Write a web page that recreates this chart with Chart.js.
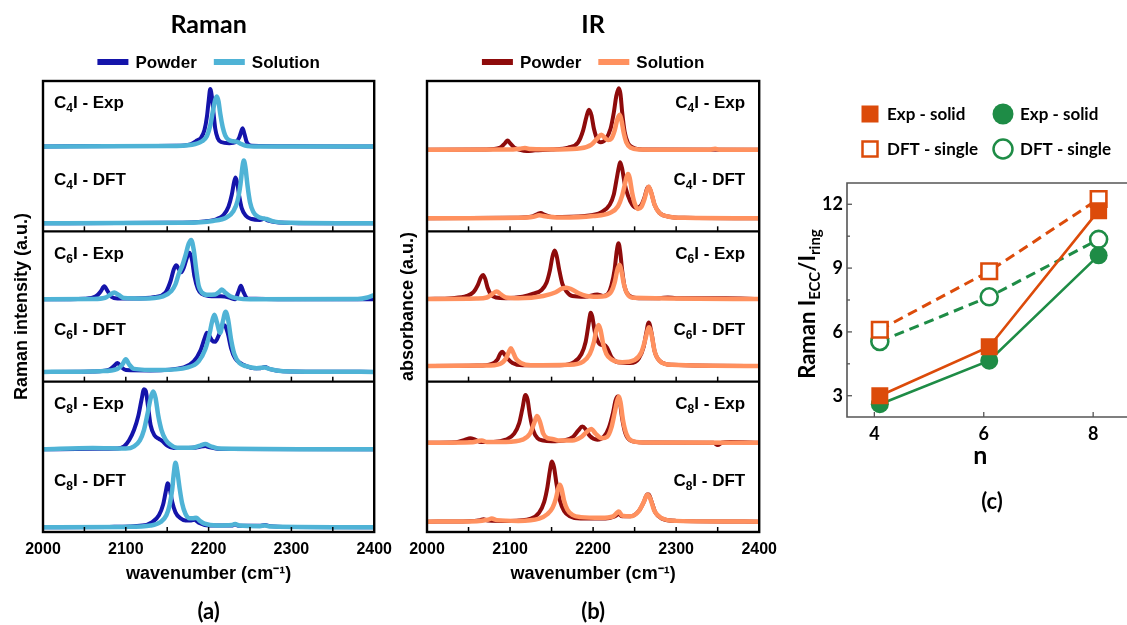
<!DOCTYPE html>
<html><head><meta charset="utf-8">
<script src="https://cdn.jsdelivr.net/npm/chart.js@4.4.1/dist/chart.umd.min.js"></script>
<style>
html,body{margin:0;padding:0;background:#fff;width:1127px;height:625px;overflow:hidden;}
canvas{position:absolute;top:0;}
#ca{left:0;width:400px;height:625px;}
#cb{left:385px;width:400px;height:625px;}
#cc{left:785px;width:342px;height:625px;}
</style></head><body>
<canvas id="ca" width="400" height="625"></canvas>
<canvas id="cb" width="400" height="625"></canvas>
<canvas id="cc" width="342" height="625"></canvas>
<script>
// ---------------- DATA ----------------
const wnTicks = [2000, 2100, 2200, 2300, 2400];
const wnMinorTicks = [2050, 2100, 2150, 2200, 2250, 2300, 2350];
const sampleLabels = [['C','4','I - Exp'], ['C','4','I - DFT'], ['C','6','I - Exp'], ['C','6','I - DFT'], ['C','8','I - Exp'], ['C','8','I - DFT']];
const seriesNames = ['Powder', 'Solution'];

// Raman spectra [wavenumber, intensity]
const ramanC4ExpPowder = [[2000,0],[2100,0.03],[2160,0.05],[2178,0.15],[2186,0.4],[2191,0.6],[2195,1.1],[2198,2.0],[2200,3.0],[2202,3.82],[2204,3.3],[2206,2.2],[2208,1.2],[2211,0.55],[2215,0.3],[2225,0.22],[2233,0.3],[2237,0.6],[2240,1.1],[2241,1.22],[2243,0.9],[2246,0.3],[2252,0.05],[2300,0.02],[2400,0]];
const ramanC4ExpSolution = [[2000,0],[2150,0.03],[2180,0.12],[2192,0.35],[2198,0.7],[2202,1.4],[2205,2.3],[2208,3.1],[2210,3.33],[2212,3.0],[2214,2.2],[2217,1.3],[2220,0.75],[2224,0.45],[2230,0.35],[2234,0.33],[2238,0.2],[2244,0.06],[2260,0],[2400,0]];
const ramanC4DftPowder = [[2000,0],[2150,0.03],[2195,0.12],[2210,0.28],[2218,0.55],[2224,1.1],[2228,1.9],[2231,2.8],[2232.6,3.04],[2234.5,2.7],[2237,1.8],[2240,1.0],[2245,0.5],[2252,0.28],[2262,0.22],[2267,0.3],[2272,0.18],[2285,0.05],[2320,0],[2400,0]];
const ramanC4DftSolution = [[2000,0],[2170,0.03],[2205,0.15],[2222,0.4],[2230,0.8],[2235,1.5],[2238.5,2.6],[2241,3.8],[2242.6,4.17],[2244.5,3.7],[2247,2.5],[2250,1.4],[2254,0.75],[2260,0.42],[2266,0.32],[2270,0.28],[2278,0.12],[2300,0.03],[2400,0]];
const ramanC6ExpPowder = [[2000,0],[2050,0.04],[2064,0.2],[2070,0.55],[2074,0.87],[2078,0.55],[2083,0.15],[2090,0.05],[2110,0.05],[2135,0.15],[2148,0.45],[2154,1.2],[2158,2.0],[2161,2.27],[2164,2.0],[2167,1.8],[2170,2.1],[2174,2.8],[2177,3.1],[2180,2.6],[2183,1.5],[2187,0.7],[2192,0.35],[2200,0.22],[2215,0.2],[2225,0.12],[2232,0.0],[2236,0.5],[2239,0.9],[2242,0.5],[2247,0.05],[2300,0],[2400,0]];
const ramanC6ExpSolution = [[2000,0],[2060,0.02],[2075,0.1],[2081,0.3],[2086,0.45],[2091,0.3],[2098,0.08],[2120,0.05],[2145,0.2],[2155,0.55],[2160,1.0],[2164,1.7],[2168,2.2],[2172,2.9],[2176,3.7],[2179,3.95],[2182,3.3],[2185,2.0],[2188,0.9],[2192,0.45],[2198,0.3],[2208,0.32],[2213,0.5],[2216,0.65],[2220,0.45],[2226,0.2],[2235,0.06],[2250,0],[2380,0.02],[2392,0.12],[2400,0.28]];
const ramanC6DftPowder = [[2000,0],[2060,0.03],[2080,0.15],[2086,0.4],[2090,0.6],[2094,0.35],[2100,0.12],[2130,0.1],[2170,0.3],[2182,0.7],[2190,1.4],[2195,2.2],[2198,2.6],[2201,2.4],[2204,2.1],[2208,2.0],[2212,2.4],[2216,3.0],[2219,3.1],[2223,2.6],[2227,1.6],[2232,0.9],[2238,0.6],[2245,0.4],[2255,0.25],[2263,0.25],[2268,0.33],[2274,0.18],[2290,0.05],[2400,0]];
const ramanC6DftSolution = [[2000,0],[2070,0.05],[2090,0.2],[2096,0.5],[2100,0.84],[2104,0.5],[2110,0.2],[2140,0.12],[2175,0.3],[2188,0.7],[2196,1.5],[2201,2.5],[2204,3.3],[2207,3.8],[2210,3.3],[2214,2.6],[2217,3.3],[2220.6,4.0],[2223.5,3.5],[2227,2.2],[2231,1.2],[2237,0.6],[2245,0.38],[2258,0.25],[2265,0.28],[2268,0.3],[2273,0.2],[2290,0.05],[2400,0]];
const ramanC8ExpPowder = [[2000,0],[2060,0.03],[2090,0.05],[2098,0.2],[2104,0.6],[2110,1.3],[2115,2.2],[2119,3.3],[2122,4.0],[2124,3.9],[2127,2.8],[2130,1.6],[2135,0.9],[2140,0.7],[2144,0.55],[2150,0.25],[2158,0.08],[2180,0.1],[2193,0.2],[2196,0.22],[2200,0.15],[2215,0.02],[2400,0]];
const ramanC8ExpSolution = [[2000,0],[2060,0.08],[2100,0.05],[2110,0.2],[2117,0.6],[2122,1.3],[2126,2.3],[2130,3.4],[2133,3.84],[2136,3.4],[2139,2.3],[2143,1.3],[2148,0.65],[2154,0.3],[2162,0.1],[2180,0.1],[2190,0.25],[2196,0.35],[2202,0.22],[2212,0.05],[2400,0]];
const ramanC8DftPowder = [[2000,0],[2080,0.03],[2120,0.12],[2132,0.35],[2140,0.8],[2145,1.5],[2148,2.3],[2150.7,2.93],[2153,2.6],[2156,1.7],[2160,1.0],[2166,0.6],[2172,0.45],[2179,0.45],[2183,0.5],[2188,0.3],[2200,0.12],[2228,0.12],[2232,0.2],[2236,0.1],[2262,0.1],[2268,0.15],[2274,0.08],[2300,0.02],[2400,0]];
const ramanC8DftSolution = [[2000,0],[2100,0.03],[2130,0.12],[2142,0.35],[2149,0.8],[2153,1.5],[2156,2.5],[2158,3.6],[2160,4.3],[2162,3.8],[2165,2.6],[2168,1.6],[2172,0.9],[2177,0.6],[2181,0.6],[2185,0.64],[2189,0.45],[2195,0.25],[2210,0.12],[2228,0.15],[2232,0.22],[2237,0.12],[2262,0.08],[2268,0.12],[2275,0.05],[2400,0]];

// IR spectra [wavenumber, absorbance]
const irC4ExpPowder = [[2000,0],[2070,0.03],[2088,0.15],[2094,0.45],[2097,0.62],[2100,0.45],[2105,0.15],[2112,0.0],[2120,-0.08],[2130,-0.03],[2150,0.02],[2170,0.15],[2182,0.5],[2188,1.3],[2192,2.2],[2195,2.67],[2198,2.3],[2201,1.4],[2205,0.7],[2209,0.5],[2215,0.7],[2221,1.4],[2225,2.5],[2228,3.6],[2231,4.1],[2233,3.7],[2235,2.5],[2238,1.2],[2242,0.45],[2248,0.15],[2260,0.03],[2400,0]];
const irC4ExpSolution = [[2000,0],[2100,0.02],[2112,0.08],[2118,0.12],[2125,0.05],[2160,0.03],[2185,0.1],[2198,0.35],[2205,0.75],[2210,1.0],[2214,0.8],[2218,0.65],[2222,0.75],[2226,1.3],[2229,2.0],[2232,2.33],[2234,2.0],[2237,1.1],[2240,0.5],[2245,0.15],[2255,0.03],[2340,0],[2347,0.08],[2352,0],[2400,0]];
const irC4DftPowder = [[2000,0],[2100,0.03],[2125,0.1],[2133,0.28],[2137,0.35],[2141,0.25],[2150,0.08],[2190,0.15],[2210,0.4],[2220,0.9],[2225,1.6],[2228,2.5],[2231,3.4],[2232.6,3.73],[2235,3.3],[2238,2.3],[2242,1.5],[2247,0.9],[2252,0.7],[2257,0.8],[2262,1.4],[2265,2.0],[2267,2.1],[2270,1.7],[2274,0.9],[2280,0.35],[2290,0.12],[2310,0.03],[2400,0]];
const irC4DftSolution = [[2000,0],[2110,0.03],[2128,0.1],[2135,0.2],[2140,0.15],[2160,0.05],[2200,0.15],[2220,0.35],[2230,0.8],[2235,1.5],[2238,2.2],[2240,2.7],[2242,2.95],[2244,2.7],[2247,1.7],[2250,1.0],[2254,0.62],[2258,0.75],[2262,1.3],[2265,1.9],[2267,2.1],[2270,1.7],[2274,0.9],[2280,0.35],[2290,0.12],[2310,0.03],[2400,0]];
const irC6ExpPowder = [[2000,0],[2030,0.05],[2048,0.2],[2056,0.45],[2061,0.9],[2065,1.45],[2067.6,1.6],[2070,1.35],[2073,0.75],[2077,0.3],[2083,0.1],[2095,0.05],[2115,0.15],[2128,0.35],[2138,0.6],[2144,1.1],[2148,1.9],[2151,2.8],[2153.7,3.22],[2156,2.9],[2159,2.0],[2163,1.0],[2168,0.5],[2175,0.2],[2190,0.15],[2205,0.3],[2212,0.2],[2218,0.35],[2222,0.9],[2226,2.0],[2228.5,3.2],[2230.6,3.71],[2232.5,3.2],[2235,1.9],[2238,0.8],[2243,0.25],[2255,0.05],[2280,0.05],[2290,0.1],[2300,0.05],[2360,0.05],[2400,0]];
const irC6ExpSolution = [[2000,0],[2060,0.03],[2072,0.1],[2078,0.3],[2084,0.49],[2089,0.3],[2095,0.1],[2110,0.05],[2140,0.2],[2155,0.45],[2163,0.7],[2168,0.75],[2174,0.65],[2182,0.4],[2192,0.2],[2205,0.15],[2215,0.2],[2222,0.5],[2226,1.1],[2229,1.9],[2231.8,2.27],[2234,1.9],[2237,1.0],[2241,0.35],[2248,0.08],[2400,0]];
const irC6DftPowder = [[2000,0],[2060,0.03],[2078,0.15],[2085,0.45],[2088,0.8],[2090.5,0.95],[2093,0.8],[2097,0.5],[2103,0.2],[2115,0.05],[2160,0.05],[2178,0.3],[2186,0.8],[2191,1.6],[2194,2.6],[2196,3.3],[2197,3.55],[2199,3.3],[2202,2.3],[2206,1.6],[2210,1.4],[2214,1.4],[2217,1.2],[2222,0.6],[2230,0.25],[2245,0.2],[2255,0.5],[2261,1.3],[2264,2.2],[2267,2.9],[2270,2.3],[2274,1.0],[2280,0.35],[2295,0.08],[2400,0]];
const irC6DftSolution = [[2000,0],[2070,0.03],[2088,0.15],[2095,0.5],[2099,1.0],[2101,1.18],[2103,1.0],[2107,0.5],[2113,0.2],[2125,0.05],[2170,0.08],[2188,0.3],[2196,0.8],[2201,1.6],[2204,2.4],[2206.6,2.73],[2209,2.4],[2212,1.5],[2216,0.8],[2222,0.45],[2235,0.25],[2250,0.4],[2258,0.9],[2263,1.8],[2266,2.45],[2267.5,2.58],[2270,2.2],[2274,1.0],[2280,0.35],[2295,0.08],[2400,0]];
const irC8ExpPowder = [[2000,0],[2035,0.03],[2046,0.2],[2052,0.3],[2058,0.2],[2065,0.05],[2080,0.05],[2095,0.2],[2105,0.6],[2111,1.3],[2115,2.3],[2118.5,3.18],[2121,2.9],[2124,1.8],[2128,0.8],[2133,0.3],[2140,0.15],[2150,0.1],[2165,0.15],[2176,0.4],[2182,0.8],[2187,1.07],[2191,0.9],[2196,0.45],[2205,0.2],[2213,0.4],[2219,1.0],[2224,2.0],[2227,2.8],[2229.8,3.07],[2232,2.8],[2235,1.6],[2239,0.6],[2245,0.15],[2260,0.02],[2345,0],[2350,-0.15],[2355,0],[2365,0.05],[2400,0]];
const irC8ExpSolution = [[2000,0],[2055,0.03],[2062,0.12],[2066,0.15],[2072,0.05],[2095,0.05],[2115,0.2],[2124,0.6],[2129,1.3],[2132.5,1.78],[2136,1.4],[2140,0.6],[2145,0.3],[2151,0.25],[2158,0.15],[2175,0.15],[2185,0.35],[2192,0.7],[2197.8,0.91],[2203,0.6],[2210,0.3],[2217,0.4],[2222,1.0],[2226,2.0],[2229,2.8],[2231,3.07],[2233,2.7],[2236,1.5],[2240,0.6],[2246,0.15],[2260,0.02],[2400,0]];
const irC8DftPowder = [[2000,0],[2050,0.03],[2064,0.1],[2068,0.15],[2073,0.08],[2100,0.05],[2125,0.2],[2135,0.6],[2141,1.3],[2145,2.3],[2148,3.4],[2150.5,4.0],[2153,3.6],[2156,2.5],[2160,1.4],[2165,0.7],[2172,0.35],[2185,0.2],[2215,0.2],[2226,0.35],[2231,0.5],[2235,0.35],[2245,0.35],[2255,0.7],[2261,1.3],[2265,1.8],[2267,1.8],[2270,1.4],[2275,0.6],[2283,0.2],[2300,0.05],[2400,0]];
const irC8DftSolution = [[2000,0],[2060,0.03],[2073,0.12],[2078,0.2],[2084,0.1],[2110,0.05],[2135,0.2],[2145,0.5],[2151,0.9],[2155,1.5],[2158,2.2],[2159.8,2.45],[2162,2.2],[2165,1.4],[2169,0.8],[2175,0.45],[2185,0.3],[2210,0.25],[2224,0.35],[2229,0.6],[2231,0.67],[2235,0.4],[2245,0.35],[2255,0.7],[2261,1.3],[2264,1.7],[2266,1.78],[2269,1.5],[2274,0.7],[2282,0.25],[2300,0.05],[2400,0]];

// Panel (c)
const nValues = [4.1, 6.1, 8.1];
const nTicks = [4, 6, 8];
const ratioTicks = [3, 6, 9, 12];
const ratioMinorTicks = [4.5, 7.5, 10.5];
const ramanExpSolidSq = [3.0, 5.3, 11.7];
const dftSingleSq = [6.1, 8.85, 12.25];
const ramanExpSolidCirc = [2.6, 4.65, 9.6];
const dftSingleCirc = [5.55, 7.65, 10.35];
const legendC = ['Exp - solid', 'DFT - single'];

// ---------------- LAYOUT / STYLE ----------------
const SANS = '"Liberation Sans", Arial, sans-serif';
const CAL = 'Lato, "Open Sans", sans-serif';
const ramanBase = [25.64, 20.54, 15.48, 10.65, 5.5, 0.31];
const irBase = [25.42, 20.87, 15.5, 11.04, 5.94, 0.69];

function drawRich(ctx, parts, x, y, align, size, family) {
  const main = `bold ${size}px ${family}`, sub = `bold ${Math.round(size * 0.68)}px ${family}`;
  let w = 0;
  for (const [t, s] of parts) { ctx.font = s ? sub : main; w += ctx.measureText(t).width; }
  let cx = align === 'right' ? x - w : align === 'center' ? x - w / 2 : x;
  ctx.textBaseline = 'middle'; ctx.textAlign = 'left';
  for (const [t, s] of parts) {
    ctx.font = s ? sub : main;
    ctx.fillText(t, cx, s ? y + size * 0.32 : y);
    cx += ctx.measureText(t).width;
  }
}

function spectraPanel(id, cfg) {
  const datasets = [];
  cfg.traces.forEach((pair, i) => {
    pair.forEach((arr, j) => {
      datasets.push({
        label: seriesNames[j],
        data: arr.map(([x, y]) => ({ x: x, y: y + cfg.base[i] })),
        borderColor: cfg.colors[j], borderWidth: j === 0 ? 4 : 4.5,
        pointRadius: 0, fill: false, cubicInterpolationMode: 'monotone',
        order: j === 0 ? 1 : 0
      });
    });
  });
  const decor = {
    id: 'decor' + id,
    afterDatasetsDraw(chart) {
      const { ctx, chartArea: a, scales: { x, y } } = chart;
      ctx.save();
      ctx.strokeStyle = '#000';
      ctx.lineWidth = 1.5;
      for (const b of [0, 10, 20]) {
        const py = y.getPixelForValue(b);
        for (const t of wnMinorTicks) {
          const px = x.getPixelForValue(t);
          ctx.beginPath(); ctx.moveTo(px, py); ctx.lineTo(px, py - 5); ctx.stroke();
        }
      }
      ctx.lineWidth = 2.4;
      for (const b of [10, 20]) {
        const py = y.getPixelForValue(b);
        ctx.beginPath(); ctx.moveTo(a.left, py); ctx.lineTo(a.right, py); ctx.stroke();
      }
      ctx.strokeRect(a.left, a.top, a.right - a.left, a.bottom - a.top);
      ctx.fillStyle = '#000';
      sampleLabels.forEach((lab, i) => {
        const top = 30 - 10 * Math.floor(i / 2);
        const yy = y.getPixelForValue(top - (i % 2 === 0 ? 1.5 : 6.6));
        const parts = [[lab[0], false], [lab[1], true], [lab[2], false]];
        if (cfg.labelAlign === 'left') drawRich(ctx, parts, a.left + 11, yy, 'left', 17, SANS);
        else drawRich(ctx, parts, a.right - 14, yy, 'right', 17, SANS);
      });
      ctx.restore();
    },
    afterDraw(chart) {
      const { ctx, chartArea: a } = chart;
      const cx = (a.left + a.right) / 2;
      ctx.save();
      ctx.fillStyle = '#000';
      ctx.textAlign = 'center'; ctx.textBaseline = 'middle';
      ctx.font = `bold 25px ${CAL}`;
      ctx.fillText(cfg.title, cx, 25);
      ctx.font = `bold 22px ${CAL}`;
      ctx.fillText(cfg.letter, cx, 612);
      // legend
      ctx.font = `bold 17px ${SANS}`;
      const sw = 31, gap = 7, between = 17;
      const w0 = ctx.measureText(seriesNames[0]).width, w1 = ctx.measureText(seriesNames[1]).width;
      const total = sw + gap + w0 + between + sw + gap + w1;
      let lx = cx - total / 2;
      const ly = 62;
      ctx.textAlign = 'left';
      [[w0, 0], [w1, 1]].forEach(([w, j]) => {
        ctx.strokeStyle = cfg.colors[j]; ctx.lineWidth = 6;
        ctx.beginPath(); ctx.moveTo(lx, ly); ctx.lineTo(lx + sw, ly); ctx.stroke();
        lx += sw + gap;
        ctx.fillText(seriesNames[j], lx, ly + 1);
        lx += w + between;
      });
      ctx.restore();
    }
  };
  return new Chart(document.getElementById(id), {
    type: 'line',
    data: { datasets },
    options: {
      responsive: false, animation: false, devicePixelRatio: 1,
      layout: { padding: { top: 81, right: cfg.padRight, left: 0, bottom: 0 } },
      plugins: { legend: { display: false }, tooltip: { enabled: false } },
      scales: {
        x: {
          type: 'linear', min: 2000, max: 2400,
          afterBuildTicks: s => { s.ticks = wnTicks.map(v => ({ value: v })); },
          ticks: { color: '#000', font: { family: SANS, size: 16, weight: 'bold' }, padding: 8, maxRotation: 0, callback: v => String(v) },
          grid: { display: false, drawTicks: false }, border: { display: false },
          afterFit: s => { s.height = 93; },
          title: { display: true, text: 'wavenumber (cm⁻¹)', color: '#000', font: { family: SANS, size: 18, weight: 'bold' }, padding: { top: 0, bottom: 40 } }
        },
        y: {
          min: 0, max: 30,
          ticks: { display: false }, grid: { display: false, drawTicks: false }, border: { display: false },
          afterFit: s => { s.width = cfg.yWidth; },
          title: { display: true, text: cfg.yTitle, color: '#000', font: { family: SANS, size: 18, weight: 'bold' }, padding: { top: cfg.yTitlePad, bottom: 0 } }
        }
      }
    },
    plugins: [decor]
  });
}

spectraPanel('ca', {
  traces: [[ramanC4ExpPowder, ramanC4ExpSolution], [ramanC4DftPowder, ramanC4DftSolution],
           [ramanC6ExpPowder, ramanC6ExpSolution], [ramanC6DftPowder, ramanC6DftSolution],
           [ramanC8ExpPowder, ramanC8ExpSolution], [ramanC8DftPowder, ramanC8DftSolution]],
  base: ramanBase, colors: ['#1414AA', '#4FB3D6'], title: 'Raman', letter: '(a)',
  yTitle: 'Raman intensity (a.u.)', yWidth: 43, yTitlePad: 11, padRight: 23, labelAlign: 'left'
});
spectraPanel('cb', {
  traces: [[irC4ExpPowder, irC4ExpSolution], [irC4DftPowder, irC4DftSolution],
           [irC6ExpPowder, irC6ExpSolution], [irC6DftPowder, irC6DftSolution],
           [irC8ExpPowder, irC8ExpSolution], [irC8DftPowder, irC8DftSolution]],
  base: irBase, colors: ['#8E0B0B', '#FF915F'], title: 'IR', letter: '(b)',
  yTitle: 'absorbance (a.u.)', yWidth: 42, yTitlePad: 12, padRight: 25, labelAlign: 'right'
});

// ---------------- PANEL (c) ----------------
const OR = '#DC4B0A', GR = '#1E8C46';
const cDecor = {
  id: 'cDecor',
  beforeDatasetsDraw(chart) {
    const { ctx, chartArea: a, scales: { x, y } } = chart;
    ctx.save();
    ctx.strokeStyle = '#555'; ctx.lineWidth = 1.6;
    ctx.beginPath();
    ctx.moveTo(chart.width, a.top); ctx.lineTo(a.left, a.top); ctx.lineTo(a.left, a.bottom); ctx.lineTo(chart.width, a.bottom);
    ctx.stroke();
    ctx.lineWidth = 1.3;
    for (const t of ratioTicks) { const py = y.getPixelForValue(t); ctx.beginPath(); ctx.moveTo(a.left, py); ctx.lineTo(a.left + 5, py); ctx.stroke(); }
    for (const t of ratioMinorTicks) { const py = y.getPixelForValue(t); ctx.beginPath(); ctx.moveTo(a.left, py); ctx.lineTo(a.left + 3, py); ctx.stroke(); }
    for (const t of nTicks) { const px = x.getPixelForValue(t); ctx.beginPath(); ctx.moveTo(px, a.bottom); ctx.lineTo(px, a.bottom - 5); ctx.stroke(); }
    ctx.restore();
  },
  afterDraw(chart) {
    const { ctx, chartArea: a } = chart;
    ctx.save();
    ctx.fillStyle = '#000';
    // y title with subscripts
    ctx.translate(23, (a.top + a.bottom) / 2 + 4);
    ctx.rotate(-Math.PI / 2);
    drawRich(ctx, [['Raman I', false], ['ECC', true], ['/I', false], ['ring', true]], 0, 0, 'center', 22, CAL);
    ctx.restore();
    ctx.save();
    ctx.fillStyle = '#000';
    ctx.textAlign = 'center'; ctx.textBaseline = 'middle';
    ctx.font = `bold 22px ${CAL}`;
    ctx.fillText('(c)', 207, 502);
    // legend
    ctx.font = `bold 17px ${CAL}`;
    ctx.textAlign = 'left';
    const rows = [114, 149];
    rows.forEach((ry, r) => {
      if (r === 0) { ctx.fillStyle = OR; ctx.fillRect(85 - 8.5, ry - 8.5, 17, 17); }
      else { ctx.strokeStyle = OR; ctx.lineWidth = 2.5; ctx.fillStyle = '#fff'; ctx.fillRect(85 - 7.5, ry - 7.5, 15, 15); ctx.strokeRect(85 - 7.5, ry - 7.5, 15, 15); }
      ctx.beginPath(); ctx.arc(218, ry, r === 0 ? 10.5 : 9.5, 0, Math.PI * 2);
      if (r === 0) { ctx.fillStyle = GR; ctx.fill(); }
      else { ctx.strokeStyle = GR; ctx.lineWidth = 2.5; ctx.stroke(); }
      ctx.fillStyle = '#000';
      ctx.fillText(legendC[r], 102, ry + 1);
      ctx.fillText(legendC[r], 235, ry + 1);
    });
    ctx.restore();
  }
};
function ptSeries(vals) { return nValues.map((n, i) => ({ x: n, y: vals[i] })); }
new Chart(document.getElementById('cc'), {
  type: 'line',
  data: {
    datasets: [
      { label: legendC[0], data: ptSeries(ramanExpSolidSq), borderColor: OR, backgroundColor: OR, borderWidth: 2.6,
        pointStyle: 'rect', pointRadius: 12, pointBackgroundColor: OR, pointBorderColor: OR, pointBorderWidth: 0, order: 0 },
      { label: legendC[0], data: ptSeries(ramanExpSolidCirc), borderColor: GR, backgroundColor: GR, borderWidth: 2.6,
        pointStyle: 'circle', pointRadius: 9, pointBackgroundColor: GR, pointBorderColor: GR, pointBorderWidth: 0, order: 0 },
      { label: legendC[1], data: ptSeries(dftSingleSq), borderColor: OR, borderWidth: 3, borderDash: [10, 6],
        pointStyle: 'rect', pointRadius: 11, pointBackgroundColor: '#fff', pointBorderColor: OR, pointBorderWidth: 2.6, order: 1 },
      { label: legendC[1], data: ptSeries(dftSingleCirc), borderColor: GR, borderWidth: 3, borderDash: [10, 6],
        pointStyle: 'circle', pointRadius: 8.5, pointBackgroundColor: '#fff', pointBorderColor: GR, pointBorderWidth: 2.6, order: 1 }
    ]
  },
  options: {
    responsive: false, animation: false, devicePixelRatio: 1,
    layout: { padding: { top: 183, left: 0, right: 0, bottom: 0 } },
    plugins: { legend: { display: false }, tooltip: { enabled: false } },
    scales: {
      x: {
        type: 'linear', min: 3.5, max: 8.37,
        afterBuildTicks: s => { s.ticks = nTicks.map(v => ({ value: v })); },
        ticks: { color: '#000', font: { family: CAL, size: 18, weight: 'bold' }, padding: 6, maxRotation: 0, callback: v => String(v) },
        grid: { display: false, drawTicks: false }, border: { display: false },
        afterFit: s => { s.height = 208; },
        title: { display: true, text: 'n', color: '#000', font: { family: CAL, size: 25, weight: 'bold' }, padding: { top: 0, bottom: 154 } }
      },
      y: {
        min: 2, max: 13,
        afterBuildTicks: s => { s.ticks = ratioTicks.map(v => ({ value: v })); },
        ticks: { color: '#000', font: { family: CAL, size: 18, weight: 'bold' }, padding: 4, callback: v => String(v) },
        grid: { display: false, drawTicks: false }, border: { display: false },
        afterFit: s => { s.width = 62; }
      }
    }
  },
  plugins: [cDecor]
});
</script>
</body></html>
